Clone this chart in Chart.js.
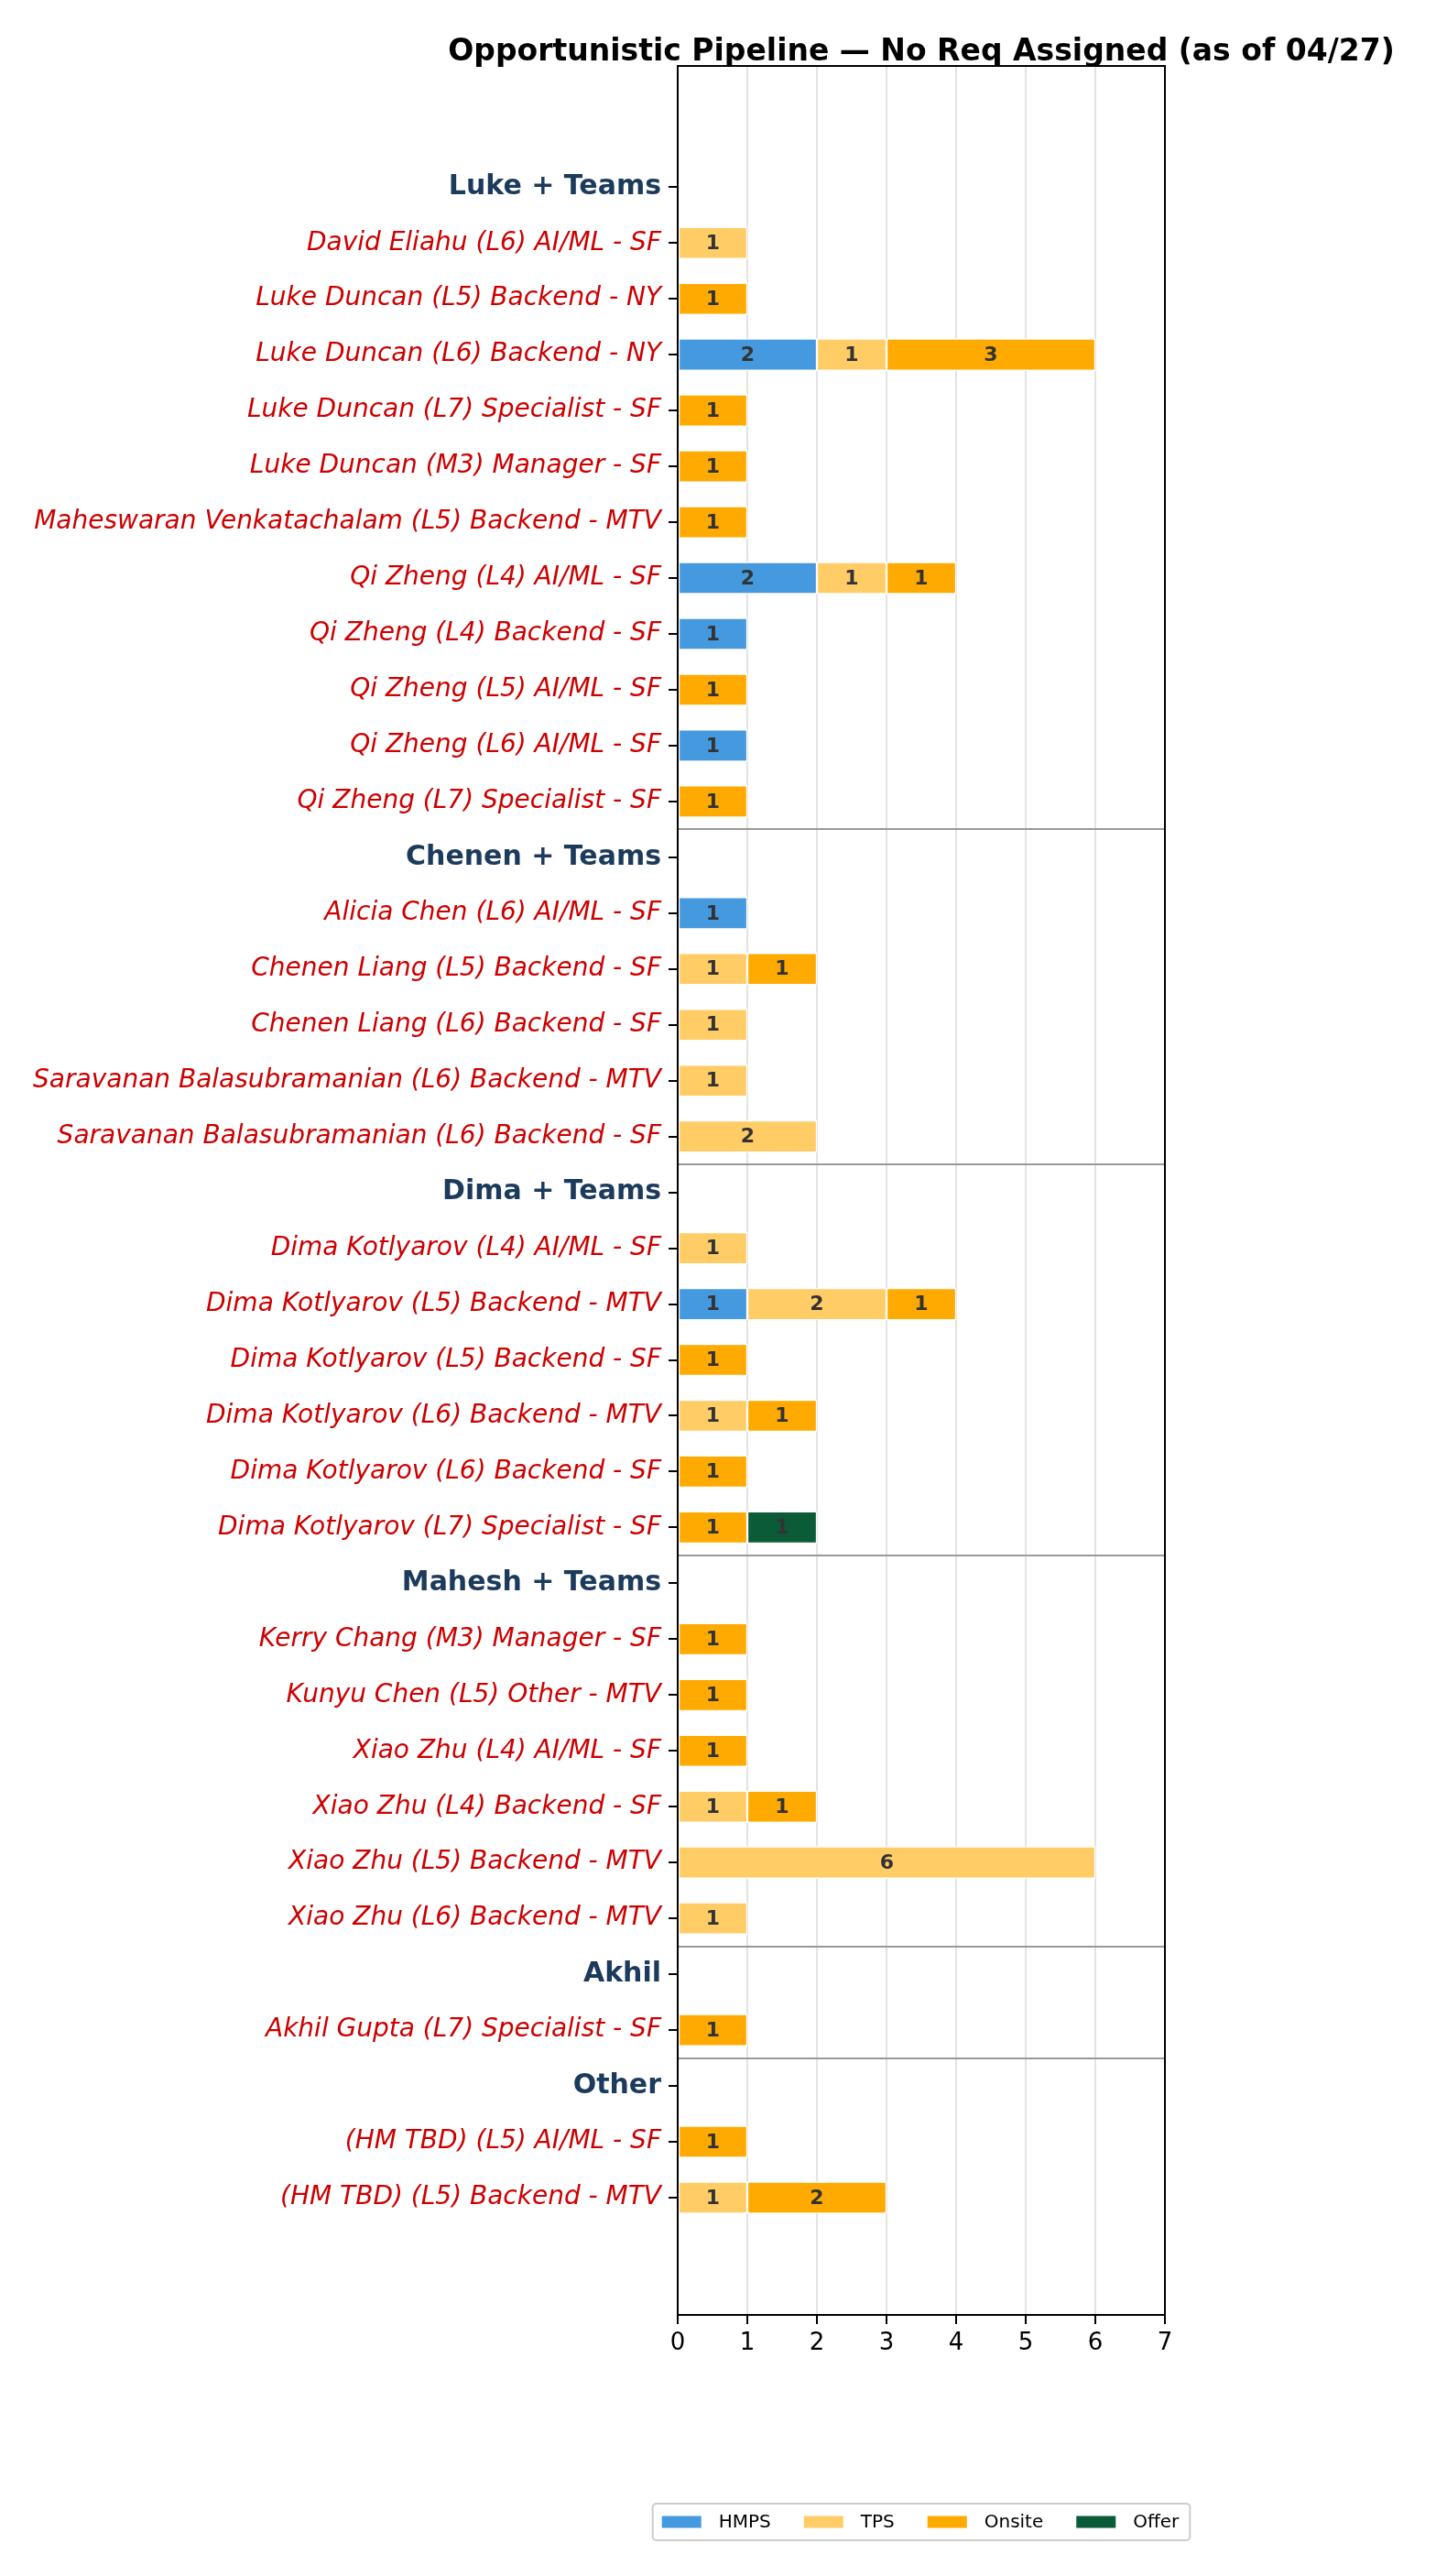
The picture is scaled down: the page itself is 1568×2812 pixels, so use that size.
<!DOCTYPE html>
<html>
<head>
<meta charset="utf-8">
<script src="https://cdn.jsdelivr.net/npm/chart.js@4.4.1/dist/chart.umd.min.js"></script>
<style>
  html, body { margin: 0; padding: 0; background: #fff; }
  #wrap { width: 1568px; height: 2812px; position: relative; }
</style>
</head>
<body>
<div id="wrap"><canvas id="pipeline"></canvas></div>
<script>
////////////////// data //////////////////
const categories = [
    'Luke + Teams',
    'David Eliahu (L6) AI/ML - SF',
    'Luke Duncan (L5) Backend - NY',
    'Luke Duncan (L6) Backend - NY',
    'Luke Duncan (L7) Specialist - SF',
    'Luke Duncan (M3) Manager - SF',
    'Maheswaran Venkatachalam (L5) Backend - MTV',
    'Qi Zheng (L4) AI/ML - SF',
    'Qi Zheng (L4) Backend - SF',
    'Qi Zheng (L5) AI/ML - SF',
    'Qi Zheng (L6) AI/ML - SF',
    'Qi Zheng (L7) Specialist - SF',
    'Chenen + Teams',
    'Alicia Chen (L6) AI/ML - SF',
    'Chenen Liang (L5) Backend - SF',
    'Chenen Liang (L6) Backend - SF',
    'Saravanan Balasubramanian (L6) Backend - MTV',
    'Saravanan Balasubramanian (L6) Backend - SF',
    'Dima + Teams',
    'Dima Kotlyarov (L4) AI/ML - SF',
    'Dima Kotlyarov (L5) Backend - MTV',
    'Dima Kotlyarov (L5) Backend - SF',
    'Dima Kotlyarov (L6) Backend - MTV',
    'Dima Kotlyarov (L6) Backend - SF',
    'Dima Kotlyarov (L7) Specialist - SF',
    'Mahesh + Teams',
    'Kerry Chang (M3) Manager - SF',
    'Kunyu Chen (L5) Other - MTV',
    'Xiao Zhu (L4) AI/ML - SF',
    'Xiao Zhu (L4) Backend - SF',
    'Xiao Zhu (L5) Backend - MTV',
    'Xiao Zhu (L6) Backend - MTV',
    'Akhil',
    'Akhil Gupta (L7) Specialist - SF',
    'Other',
    '(HM TBD) (L5) AI/ML - SF',
    '(HM TBD) (L5) Backend - MTV'
];
const headers = ['Luke + Teams', 'Chenen + Teams', 'Dima + Teams', 'Mahesh + Teams', 'Akhil', 'Other'];

//            Luke group                   | Chenen      | Dima          | Mahesh        |Akhil| Other
const hmps   = [0, 0,0,2,0,0,0,2,1,0,1,0,  0, 1,0,0,0,0,  0, 0,1,0,0,0,0,  0, 0,0,0,0,0,0,  0,0,  0, 0,0];
const tps    = [0, 1,0,1,0,0,0,1,0,0,0,0,  0, 0,1,1,1,2,  0, 1,2,0,1,0,0,  0, 0,0,0,1,6,1,  0,0,  0, 0,1];
const onsite = [0, 0,1,3,1,1,1,1,0,1,0,1,  0, 0,1,0,0,0,  0, 0,1,1,1,1,1,  0, 1,1,1,1,0,0,  0,1,  0, 1,2];
const offer  = [0, 0,0,0,0,0,0,0,0,0,0,0,  0, 0,0,0,0,0,  0, 0,0,0,0,0,1,  0, 0,0,0,0,0,0,  0,0,  0, 0,0];

const xTicks = [0, 1, 2, 3, 4, 5, 6, 7];
// group separators sit between these rows
const separators = [11.5, 17.5, 24.5, 31.5, 33.5];

const stageNames  = ['HMPS', 'TPS', 'Onsite', 'Offer'];
const stageColors = ['#4599de', '#ffcc66', '#ffaa00', '#0b5a38'];

const TITLE = 'Opportunistic Pipeline \u2014 No Req Assigned (as of 04/27)';
const RED = '#cc0000';
const NAVY = '#1b3a5c';
const FONT = '"DejaVu Sans", "Liberation Sans", sans-serif';

// turn a row array into bar points (skip the zeros)
function toPoints(arr) {
    var pts = [];
    arr.forEach(function (v, i) {
        if (v > 0) pts.push({ x: v, y: i });
    });
    return pts;
}

function isHeader(c) {
    return !!(c && c.tick) && headers.indexOf(categories[c.tick.value]) >= 0;
}

////////////////// plugins //////////////////
const framePlugin = {
    id: 'frame',
    afterDatasetsDraw(chart) {
        const ctx = chart.ctx;
        const a = chart.chartArea;
        const y = chart.scales.y;
        ctx.save();
        // group separators
        ctx.strokeStyle = '#999999';
        ctx.lineWidth = 2;
        separators.forEach(function (s) {
            const py = Math.round(y.getPixelForValue(s));
            ctx.beginPath();
            ctx.moveTo(a.left, py);
            ctx.lineTo(a.right, py);
            ctx.stroke();
        });
        // axes box
        ctx.strokeStyle = '#000';
        ctx.lineWidth = 2;
        ctx.strokeRect(a.left, a.top, a.right - a.left, a.bottom - a.top);
        ctx.restore();
    }
};

const barLabelPlugin = {
    id: 'barLabels',
    afterDatasetsDraw(chart) {
        const ctx = chart.ctx;
        ctx.save();
        ctx.font = 'bold 22px ' + FONT;
        ctx.fillStyle = '#333333';
        ctx.textAlign = 'center';
        ctx.textBaseline = 'middle';
        chart.data.datasets.forEach(function (ds, di) {
            const meta = chart.getDatasetMeta(di);
            meta.data.forEach(function (el, i) {
                const v = ds.data[i].x;
                if (!v) return;
                const c = el.getCenterPoint();
                ctx.fillText(String(v), c.x, c.y + 1);
            });
        });
        ctx.restore();
    }
};

// title centred over the axes, drawn without the width squeeze
const titlePlugin = {
    id: 'axesTitle',
    afterDraw(chart) {
        const ctx = chart.ctx;
        const a = chart.chartArea;
        ctx.save();
        ctx.font = 'bold 33px ' + FONT;
        ctx.fillStyle = '#000';
        ctx.textAlign = 'center';
        ctx.textBaseline = 'alphabetic';
        ctx.fillText(TITLE, (a.left + a.right) / 2, 66);
        ctx.restore();
    }
};

const legendBoxPlugin = {
    id: 'legendBox',
    afterDraw(chart) {
        const ctx = chart.ctx;
        const a = chart.chartArea;
        ctx.save();
        ctx.font = '20px ' + FONT;
        const patchW = 43, patchH = 13, gapText = 19, gapItem = 36, padL = 10, padR = 12;
        var total = padL + padR;
        stageNames.forEach(function (n, i) {
            total += patchW + gapText + ctx.measureText(n).width;
            if (i < stageNames.length - 1) total += gapItem;
        });
        const cx = (a.left + a.right) / 2;
        const left = cx - total / 2;
        const top = 2733, h = 40;
        // frame
        ctx.fillStyle = 'rgba(255,255,255,0.8)';
        ctx.strokeStyle = '#cccccc';
        ctx.lineWidth = 2;
        ctx.beginPath();
        ctx.roundRect(left, top, total, h, 4);
        ctx.fill();
        ctx.stroke();
        var x = left + padL;
        const midY = top + h / 2;
        ctx.textBaseline = 'middle';
        ctx.textAlign = 'left';
        stageNames.forEach(function (n, i) {
            ctx.fillStyle = stageColors[i];
            ctx.fillRect(x, midY - patchH / 2, patchW, patchH);
            x += patchW + gapText;
            ctx.fillStyle = '#000';
            ctx.fillText(n, x, midY + 1);
            x += ctx.measureText(n).width + gapItem;
        });
        ctx.restore();
    }
};

////////////////// chart //////////////////
const series = [hmps, tps, onsite, offer];
const datasets = series.map(function (arr, i) {
    return {
        label: stageNames[i],
        data: toPoints(arr),
        backgroundColor: stageColors[i],
        borderColor: 'rgba(255,255,255,0.9)',
        borderWidth: 1.5,
        borderSkipped: false,
        barThickness: 35
    };
});

const ctx = document.getElementById('pipeline').getContext('2d');
const chart = new Chart(ctx, {
    type: 'bar',
    data: { datasets: datasets },
    plugins: [framePlugin, barLabelPlugin, titlePlugin, legendBoxPlugin],
    options: {
        indexAxis: 'y',
        responsive: true,
        maintainAspectRatio: false,
        devicePixelRatio: 1,
        animation: false,
        layout: { padding: { left: 0, right: 296, top: 72, bottom: 185 } },
        plugins: {
            legend: { display: false },
            tooltip: { enabled: false },
            title: { display: false }
        },
        scales: {
            x: {
                type: 'linear',
                stacked: true,
                min: 0,
                max: 7,
                afterBuildTicks: function (scale) {
                    scale.ticks = xTicks.map(function (v) { return { value: v }; });
                },
                afterFit: function (scale) { scale.height = 100; },
                ticks: {
                    color: '#000',
                    padding: 6,
                    font: { family: FONT, size: 26 }
                },
                grid: {
                    color: '#e3e3e3',
                    lineWidth: 2,
                    tickColor: '#000',
                    tickWidth: 2,
                    tickLength: 10
                },
                border: { display: true, color: '#000', width: 2 }
            },
            y: {
                type: 'linear',
                stacked: true,
                reverse: true,
                offset: false,
                min: -2.17,
                max: 38.1,
                afterBuildTicks: function (scale) {
                    scale.ticks = categories.map(function (c, i) { return { value: i }; });
                },
                afterFit: function (scale) { scale.width = 740; },
                ticks: {
                    autoSkip: false,
                    padding: 8,
                    callback: function (value) { return categories[value]; },
                    color: function (c) { return isHeader(c) ? NAVY : RED; },
                    font: function (c) {
                        return isHeader(c)
                            ? { family: FONT, size: 30, weight: 'bold', style: 'normal' }
                            : { family: FONT, size: 28, weight: 'normal', style: 'italic' };
                    }
                },
                grid: {
                    offset: false,
                    drawOnChartArea: false,
                    color: '#000',
                    lineWidth: 2,
                    tickLength: 10
                },
                border: { display: true, color: '#000', width: 2 }
            }
        }
    }
});
</script>
</body>
</html>
